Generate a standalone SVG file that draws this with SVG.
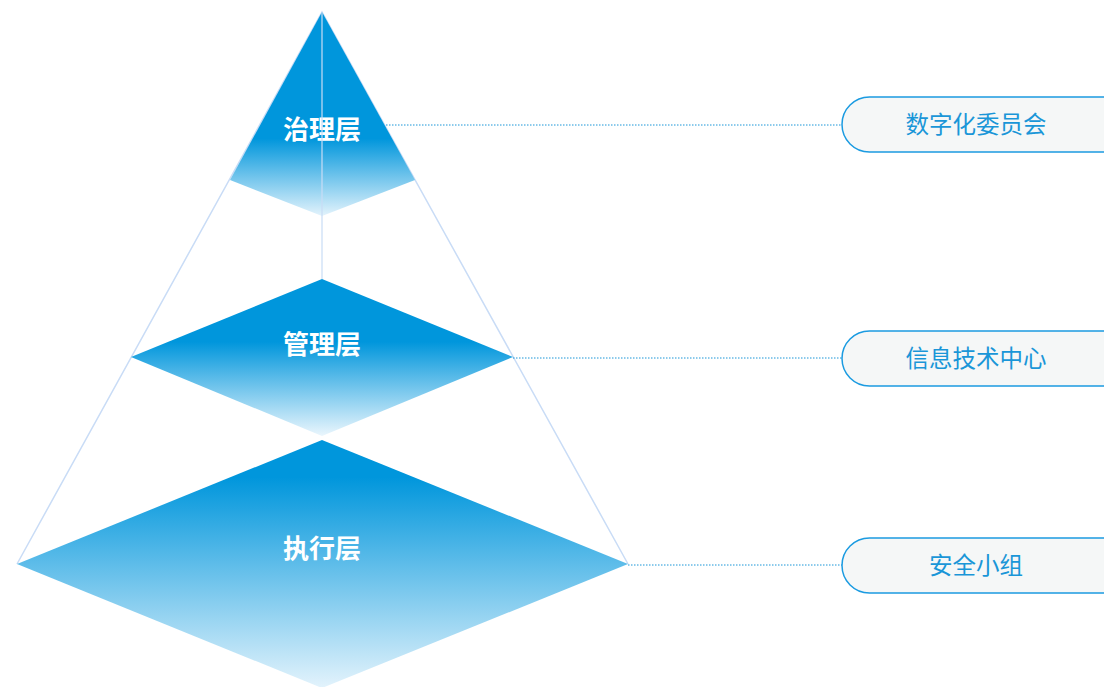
<svg xmlns="http://www.w3.org/2000/svg" width="1104" height="687" viewBox="0 0 1104 687">
<style>
.frame{stroke:#c9dcf6;stroke-width:1.5;fill:none}
.conn{stroke:#1a96d8;stroke-width:1;stroke-dasharray:1.5 1.5;fill:none}
.lvl{font-family:"Noto Sans CJK SC","Noto Sans",sans-serif;font-size:26px;font-weight:bold;fill:#ffffff;text-anchor:middle}
.pill{fill:#f5f7f7;stroke:#1b9be1;stroke-width:1.5}
.ptxt{font-family:"Noto Sans CJK SC","Noto Sans",sans-serif;font-size:23.5px;fill:#1a96d8;text-anchor:middle}
</style>
<defs>
<linearGradient id="g1" x1="0" y1="12" x2="0" y2="216" gradientUnits="userSpaceOnUse">
<stop offset="0" stop-color="#0096dc"/><stop offset="0.62" stop-color="#0096dc"/><stop offset="1" stop-color="#e3f3fc"/>
</linearGradient>
<linearGradient id="g2" x1="0" y1="279" x2="0" y2="436" gradientUnits="userSpaceOnUse">
<stop offset="0" stop-color="#0096dc"/><stop offset="0.4" stop-color="#0096dc"/><stop offset="1" stop-color="#eaf6fd"/>
</linearGradient>
<linearGradient id="g3" x1="0" y1="440" x2="0" y2="688" gradientUnits="userSpaceOnUse">
<stop offset="0" stop-color="#0096dc"/><stop offset="0.15" stop-color="#0096dc"/><stop offset="1" stop-color="#e3f3fc"/>
</linearGradient>
</defs>
<rect width="1104" height="687" fill="#ffffff"/>
<g id="frame">
<polyline class="frame" points="17,564 322,12 628,564"/>
</g>
<g id="layer-exec">
<polygon points="322,440 628,564 322,688 17,564" fill="url(#g3)"/>
<text class="lvl" x="322" y="558">执行层</text>
</g>
<g id="layer-mgmt">
<polygon points="322,279 513,357 322,436 131,357" fill="url(#g2)"/>
<text class="lvl" x="322" y="354">管理层</text>
</g>
<g id="layer-gov">
<polygon points="322,12 415,180 322,216 230,180" fill="url(#g1)"/>
<text class="lvl" x="322" y="139">治理层</text>
</g>
<g id="connectors">
<line class="frame" x1="322" y1="12" x2="322" y2="279" stroke-width="1" opacity="0.8"/>
<line class="conn" x1="386" y1="125" x2="842" y2="125"/>
<line class="conn" x1="513" y1="358" x2="842" y2="358"/>
<line class="conn" x1="628" y1="565" x2="842" y2="565"/>
</g>
<g id="org-committee">
<rect class="pill" x="842" y="97" width="290" height="55" rx="27.5"/>
<text class="ptxt" x="976" y="133">数字化委员会</text>
</g>
<g id="org-itcenter">
<rect class="pill" x="842" y="331" width="290" height="55" rx="27.5"/>
<text class="ptxt" x="976" y="367">信息技术中心</text>
</g>
<g id="org-security">
<rect class="pill" x="842" y="538" width="290" height="55" rx="27.5"/>
<text class="ptxt" x="976" y="574">安全小组</text>
</g>
</svg>
